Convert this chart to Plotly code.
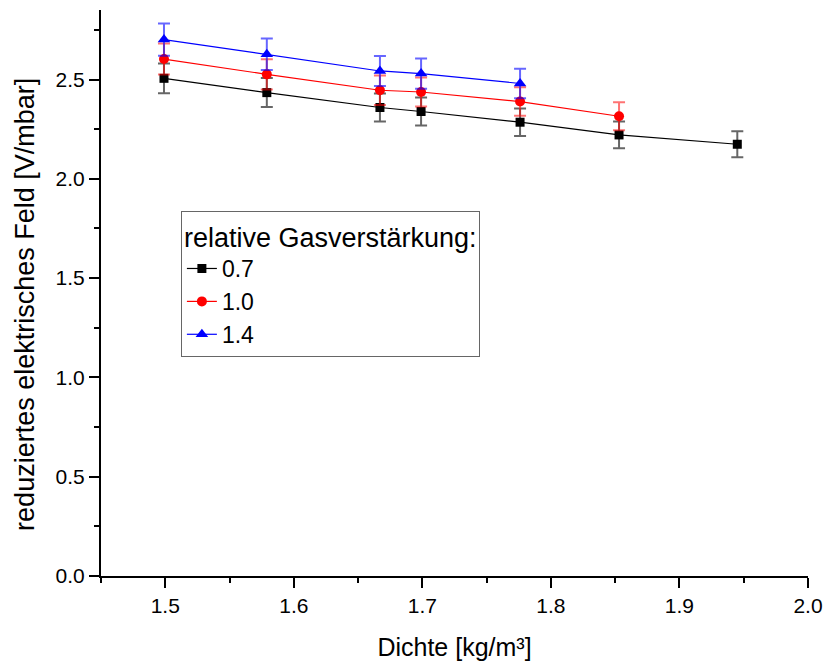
import plotly.graph_objects as go

# Data
density_07 = [1.499, 1.579, 1.667, 1.699, 1.776, 1.853, 1.945]
field_07 = [2.506, 2.434, 2.359, 2.339, 2.285, 2.221, 2.174]
err_07 = [0.075, 0.073, 0.071, 0.070, 0.069, 0.067, 0.065]

density_10 = [1.499, 1.579, 1.667, 1.699, 1.776, 1.853]
field_10 = [2.603, 2.526, 2.446, 2.437, 2.389, 2.315]
err_10 = [0.078, 0.076, 0.074, 0.073, 0.072, 0.070]

density_14 = [1.499, 1.579, 1.667, 1.699, 1.776]
field_14 = [2.701, 2.627, 2.543, 2.530, 2.480]
err_14 = [0.081, 0.079, 0.076, 0.076, 0.074]

series_names = ["0.7", "1.0", "1.4"]
y_title = "reduziertes elektrisches Feld [V/mbar]"
x_title = "Dichte [kg/m³]"
legend_title = "relative Gasverstärkung:"

FONT = "Liberation Sans"

fig = go.Figure()

fig.add_trace(go.Scatter(
    x=density_07, y=field_07, name=series_names[0], mode="lines+markers",
    line=dict(color="black", width=1.2),
    marker=dict(symbol="square", size=9, color="black"),
    error_y=dict(type="data", array=err_07, visible=True,
                 color="rgba(0,0,0,0.6)", thickness=2, width=6),
))
fig.add_trace(go.Scatter(
    x=density_10, y=field_10, name=series_names[1], mode="lines+markers",
    line=dict(color="red", width=1.2),
    marker=dict(symbol="circle", size=10, color="red"),
    error_y=dict(type="data", array=err_10, visible=True,
                 color="rgba(255,0,0,0.55)", thickness=2, width=6),
))
fig.add_trace(go.Scatter(
    x=density_14, y=field_14, name=series_names[2], mode="lines+markers",
    line=dict(color="blue", width=1.2),
    marker=dict(symbol="triangle-up", size=11, color="blue"),
    error_y=dict(type="data", array=err_14, visible=True,
                 color="rgba(0,0,255,0.6)", thickness=2, width=6),
))

fig.update_layout(
    width=824, height=664,
    margin=dict(l=101, r=16, t=10, b=88, autoexpand=False),
    paper_bgcolor="white", plot_bgcolor="white",
    font=dict(family=FONT, color="black", size=21),
    showlegend=True,
    legend=dict(
        x=0.113, y=0.645, xanchor="left", yanchor="top",
        bgcolor="white", bordercolor="#666666", borderwidth=1,
        font=dict(family=FONT, size=23, color="black"),
        title=dict(text=legend_title, font=dict(family=FONT, size=27)),
        tracegroupgap=0,
    ),
    xaxis=dict(
        range=[1.45, 2.0], dtick=0.1, tick0=1.5, tickformat=".1f",
        showline=True, linecolor="black", linewidth=2, mirror=False,
        ticks="outside", ticklen=10, tickwidth=1.5, tickcolor="black",
        showgrid=False, zeroline=False,
        minor=dict(ticks="outside", ticklen=5, dtick=0.05, tick0=1.45,
                   tickcolor="black", tickwidth=1.5, showgrid=False),
        tickfont=dict(family=FONT, size=21, color="black"),
        title=dict(text=x_title, font=dict(family=FONT, size=25, color="black"), standoff=22),
    ),
    yaxis=dict(
        range=[0, 2.85], dtick=0.5, tick0=0, tickformat=".1f",
        showline=True, linecolor="black", linewidth=2, mirror=False,
        ticks="outside", ticklen=10, tickwidth=1.5, tickcolor="black",
        showgrid=False, zeroline=False,
        minor=dict(ticks="outside", ticklen=5, dtick=0.25, tick0=0,
                   tickcolor="black", tickwidth=1.5, showgrid=False),
        tickfont=dict(family=FONT, size=21, color="black"),
    ),
    annotations=[dict(
        text=y_title, textangle=-90, showarrow=False,
        xref="paper", yref="paper", x=0, y=0.479,
        xanchor="center", yanchor="middle", xshift=-76,
        font=dict(family=FONT, size=27, color="black"),
    )],
)

fig.write_html("out.html", config={"displayModeBar": False},
               post_script="document.body.style.margin='0';document.body.style.overflow='hidden';")
